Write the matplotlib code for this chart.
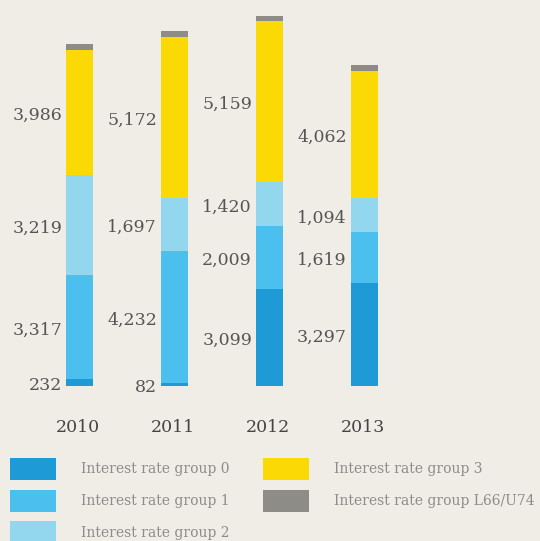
import matplotlib
matplotlib.use("Agg")
import matplotlib.pyplot as plt
from matplotlib.patches import Rectangle
import numpy as np

years = ["2010", "2011", "2012", "2013"]
group0 = [232, 82, 3099, 3297]
group1 = [3317, 4232, 2009, 1619]
group2 = [3219, 1697, 1420, 1094]
group3 = [3986, 5172, 5159, 4062]
group_l66 = [190, 190, 160, 190]

series_names = ["Interest rate group 0", "Interest rate group 1", "Interest rate group 2",
                "Interest rate group 3", "Interest rate group L66/U74"]
colors = ["#1e9ad6", "#4bbfed", "#93d7ee", "#fad905", "#8e8c87"]
labelled = [True, True, True, True, False]

BG = "#f0ede6"
W, H = 540, 541
fig = plt.figure(figsize=(W / 100, H / 100), dpi=100, facecolor=BG)
ax = fig.add_axes([0, (H - 386) / H, 1, 386 / H])
ax.set_facecolor(BG)
ax.set_xlim(-79.5 / 95, (W - 79.5) / 95)
ax.set_ylim(0, 386 / 0.03124)
ax.axis("off")

x = np.arange(len(years))
width = 27 / 95
bottom = np.zeros(len(years))
all_series = [group0, group1, group2, group3, group_l66]
for vals, col, lab in zip(all_series, colors, labelled):
    vals = np.array(vals, dtype=float)
    ax.bar(x, vals, width, bottom=bottom, color=col, linewidth=0)
    if lab:
        for xi, b, v in zip(x, bottom, vals):
            ax.annotate(f"{int(v):,}", xy=(xi - width / 2, b + v / 2),
                        xytext=(-4, -3), textcoords="offset pixels",
                        ha="right", va="center", fontsize=12.5,
                        family="DejaVu Serif", color="#555555")
    bottom += vals

for xi, yr in zip(x, years):
    ax.annotate(yr, xy=(xi, 0), xytext=(-1.5, -41), textcoords="offset pixels",
                ha="center", va="center", fontsize=12.5, family="DejaVu Serif",
                color="#444444", annotation_clip=False)

# legend (two columns, column-major order), positioned in figure pixels
col_x = [10, 263]
row_top = 458
row_pitch = 31.5
patch_w, patch_h = 46, 22
text_gap = 25
nrows = 3
for i, (name, col) in enumerate(zip(series_names, colors)):
    c, r = divmod(i, nrows)
    px = col_x[c]
    top = row_top + r * row_pitch
    fig.patches.append(Rectangle((px / W, 1 - (top + patch_h) / H), patch_w / W, patch_h / H,
                                 transform=fig.transFigure, facecolor=col, edgecolor="none",
                                 figure=fig))
    fig.text((px + patch_w + text_gap) / W, 1 - (top + patch_h / 2 + 0.5) / H, name,
             ha="left", va="center", fontsize=10, family="DejaVu Serif", color="#8c8c8c")

fig.savefig("out.png", dpi=100, facecolor=BG)
